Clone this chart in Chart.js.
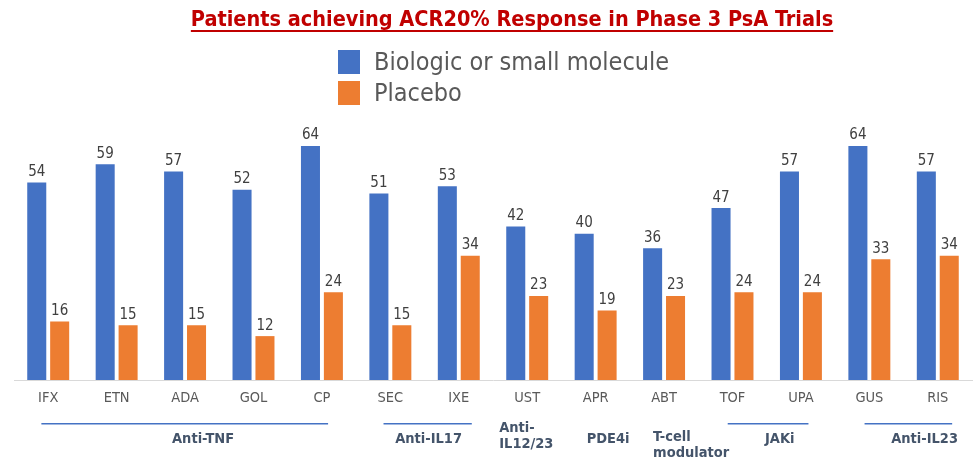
<!DOCTYPE html>
<html><head><meta charset="utf-8">
<script src="https://cdn.jsdelivr.net/npm/chart.js@4.4.1/dist/chart.umd.min.js"></script>
<style>html,body{margin:0;padding:0;background:#fff;}#wrap{width:975px;height:465px;position:relative;}</style>
</head><body><div id="wrap"><canvas id="c" width="975" height="465"></canvas></div>
<script>
const chartTitle = "Patients achieving ACR20% Response in Phase 3 PsA Trials";
const categories = ["IFX","ETN","ADA","GOL","CP","SEC","IXE","UST","APR","ABT","TOF","UPA","GUS","RIS"];
const seriesNames = ["Biologic or small molecule","Placebo"];
const biologic = [54,59,57,52,64,51,53,42,40,36,47,57,64,57];
const placebo = [16,15,15,12,24,15,34,23,19,23,24,24,33,34];
const groupNames = [["Anti-TNF"],["Anti-IL17"],["Anti-","IL12/23"],["PDE4i"],["T-cell","modulator"],["JAKi"],["Anti-IL23"]];
const groupStart = [0,5,7,8,9,10,12];
const groupEnd = [4,6,7,8,9,11,13];

const FONT = '"DejaVu Sans Condensed","DejaVu Sans",sans-serif';
const BLUE = '#4472C4', ORANGE = '#ED7D31';

// layout tweaks per group (in units of category step): line start, line end, label x shift (px)
const lineL = [-0.1,-0.1,0,0,0,-0.07,-0.07];
const lineR = [0.09,0.19,0,0,0,0.11,0.21];
const labDx = [18,4,-28,-9,-11,13,21];
const labY  = [439,439,428,439,437,439,439];

const decor = {
  id: 'decor',
  afterDraw(chart) {
    const ctx = chart.ctx;
    ctx.save();
    // title
    ctx.font = 'bold 21.5px ' + FONT;
    ctx.fillStyle = '#C00000';
    ctx.textAlign = 'center';
    ctx.textBaseline = 'alphabetic';
    const tw = ctx.measureText(chartTitle).width;
    ctx.fillText(chartTitle, 512, 26);
    ctx.fillRect(512 - tw/2, 30, tw, 2);
    // legend
    ctx.font = '25px ' + FONT;
    ctx.textAlign = 'left';
    ctx.textBaseline = 'middle';
    chart.data.datasets.forEach((ds, i) => {
      const cy = 62 + i*31;
      ctx.fillStyle = ds.backgroundColor;
      ctx.fillRect(338, cy - 12, 22, 24);
      ctx.fillStyle = '#595959';
      ctx.fillText(ds.label, 374, cy + 1);
    });
    // group labels
    const xs = chart.scales.x;
    const step = xs.getPixelForValue(1) - xs.getPixelForValue(0);
    ctx.font = 'bold 14.5px ' + FONT;
    groupNames.forEach((lines, g) => {
      const a = xs.getPixelForValue(groupStart[g]);
      const b = xs.getPixelForValue(groupEnd[g]);
      if (groupEnd[g] > groupStart[g]) {
        ctx.fillStyle = BLUE;
        const x1 = a + step*lineL[g], x2 = b + step*lineR[g];
        ctx.fillRect(x1, 423, x2 - x1, 1.5);
        ctx.fillStyle = '#44546A';
        ctx.textAlign = 'center';
        ctx.fillText(lines[0], (a + b)/2 + labDx[g], labY[g]);
      } else {
        ctx.fillStyle = '#44546A';
        ctx.textAlign = 'left';
        lines.forEach((t, k) => ctx.fillText(t, a + labDx[g], labY[g] + k*16));
      }
    });
    ctx.restore();
  },
  afterDatasetsDraw(chart) {
    const ctx = chart.ctx;
    ctx.save();
    ctx.font = '15px ' + FONT;
    ctx.fillStyle = '#404040';
    ctx.textAlign = 'center';
    ctx.textBaseline = 'bottom';
    chart.data.datasets.forEach((ds, i) => {
      chart.getDatasetMeta(i).data.forEach((bar, j) => {
        ctx.fillText(String(ds.data[j]), bar.x, bar.y - 3);
      });
    });
    ctx.restore();
  }
};

new Chart(document.getElementById('c'), {
  type: 'bar',
  data: {
    labels: categories,
    datasets: [
      {label: seriesNames[0], data: biologic, backgroundColor: BLUE, categoryPercentage: 0.67, barPercentage: 0.83},
      {label: seriesNames[1], data: placebo, backgroundColor: ORANGE, categoryPercentage: 0.67, barPercentage: 0.83}
    ]
  },
  options: {
    responsive: false,
    animation: false,
    layout: {padding: {top: 124, left: 14, right: 3, bottom: 0}},
    plugins: {legend: {display: false}, title: {display: false}, tooltip: {enabled: false}},
    scales: {
      x: {
        grid: {display: false, drawTicks: false},
        border: {display: true, color: '#D9D9D9', width: 1},
        ticks: {padding: 10, color: '#595959', font: {family: FONT, size: 14.5}},
        afterFit(s) { s.height = 85; }
      },
      y: {display: false, min: 0, max: 70}
    }
  },
  plugins: [decor]
});
</script></body></html>
